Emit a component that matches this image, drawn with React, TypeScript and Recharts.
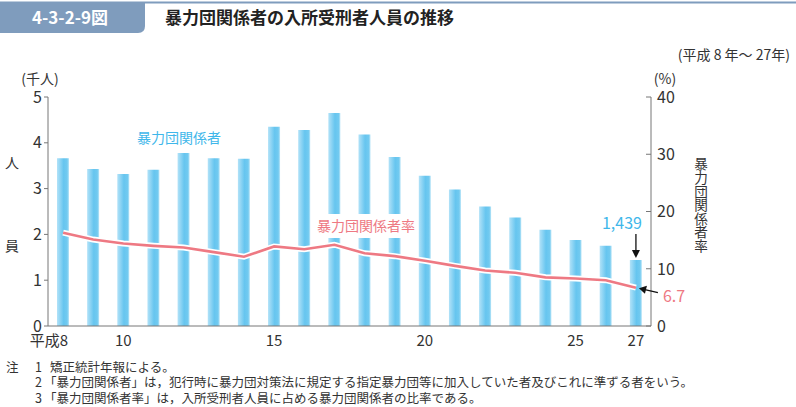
import React from "react";
import {
  ComposedChart,
  Bar,
  Line,
  XAxis,
  YAxis,
  ReferenceDot,
} from "recharts";

// 平成8年〜27年
const years = [8, 9, 10, 11, 12, 13, 14, 15, 16, 17, 18, 19, 20, 21, 22, 23, 24, 25, 26, 27];
// 暴力団関係者の入所受刑者人員（千人）
const members = [3.66, 3.43, 3.32, 3.41, 3.78, 3.66, 3.65, 4.35, 4.28, 4.65, 4.18, 3.69, 3.28, 2.98, 2.61, 2.37, 2.1, 1.88, 1.75, 1.439];
// 暴力団関係者率（%）
const rate = [16.3, 15.1, 14.4, 14.0, 13.7, 12.9, 12.1, 13.9, 13.4, 14.2, 12.7, 12.2, 11.4, 10.5, 9.7, 9.3, 8.5, 8.3, 8.0, 6.7];

const xTickYears = [8, 10, 15, 20, 25, 27];
const leftTicks = [0, 1, 2, 3, 4, 5];
const rightTicks = [0, 10, 20, 30, 40];

const notes = [
  ["注", "1", "矯正統計年報による。"],
  ["", "2", "「暴力団関係者」は，犯行時に暴力団対策法に規定する指定暴力団等に加入していた者及びこれに準ずる者をいう。"],
  ["", "3", "「暴力団関係者率」は，入所受刑者人員に占める暴力団関係者の比率である。"],
];

const data = years.map((y, i) => ({ year: y, members: members[i], rate: rate[i] }));

const FONT = '"Noto Sans CJK JP", "Noto Sans", sans-serif';
const BLUE = "#3fb7ea";
const PINK = "#ee7983";
const AXIS = "#777";
const TEXT = "#333";

function XTick(props: any) {
  const { x, y, payload } = props;
  if (!xTickYears.includes(payload.value)) return <g />;
  const first = payload.value === years[0];
  return (
    <text
      x={first ? x + 5 : x}
      y={y + 20}
      textAnchor={first ? "end" : "middle"}
      fontSize={15}
      fill={TEXT}
      fontFamily={FONT}
    >
      {first ? `平成${payload.value}` : payload.value}
    </text>
  );
}

function RightTick(props: any) {
  const { x, y, payload } = props;
  return (
    <g>
      <line x1={x - 10} x2={x - 5} y1={y} y2={y} stroke={AXIS} />
      <text x={x + 1} y={y} dy="0.36em" textAnchor="start" fontSize={16} fill={TEXT} fontFamily={FONT}>
        {payload.value}
      </text>
    </g>
  );
}

function DownArrowLabel(props: any) {
  const { viewBox } = props;
  const cx = viewBox.x + viewBox.width / 2;
  const cy = viewBox.y + viewBox.height / 2;
  return (
    <g>
      <text x={cx - 14} y={cy - 37} dy="0.36em" textAnchor="middle" fontSize={16} fill={BLUE} fontFamily={FONT}>
        1,439
      </text>
      <line x1={cx} x2={cx} y1={cy - 26} y2={cy - 9} stroke="#111" strokeWidth={1.3} />
      <polygon points={`${cx - 4},${cy - 10} ${cx + 4},${cy - 10} ${cx},${cy - 2}`} fill="#111" />
    </g>
  );
}

function LeftArrowLabel(props: any) {
  const { viewBox } = props;
  const cx = viewBox.x + viewBox.width / 2;
  const cy = viewBox.y + viewBox.height / 2;
  return (
    <g>
      <line x1={cx + 22} x2={cx + 9} y1={cy + 5} y2={cy + 2} stroke="#111" strokeWidth={1.3} />
      <polygon points={`${cx + 3},${cy + 0.5} ${cx + 11},${cy - 2} ${cx + 9},${cy + 6}`} fill="#111" />
      <text x={cx + 27} y={cy + 9} dy="0.36em" textAnchor="start" fontSize={16} fill={PINK} fontFamily={FONT}>
        6.7
      </text>
    </g>
  );
}

export default function App() {
  return (
    <div style={{ position: "absolute", left: 0, top: 0, width: 796, height: 407, background: "#fff", fontFamily: FONT }}>
      <ComposedChart
        width={796}
        height={407}
        data={data}
        margin={{ top: 97, right: 105, left: 8, bottom: 61 }}
        barCategoryGap={0}
      >
        <defs>
          <linearGradient id="barGrad" x1="0" y1="0" x2="1" y2="0">
            <stop offset="0" stopColor="#b2e2f8" />
            <stop offset="0.55" stopColor="#66c5ef" />
            <stop offset="0.85" stopColor="#72caf0" />
            <stop offset="1" stopColor="#bce6f8" />
          </linearGradient>
        </defs>
        <XAxis
          dataKey="year"
          interval={0}
          tickLine={false}
          tickSize={0}
          tickMargin={0}
          axisLine={{ stroke: AXIS }}
          tick={<XTick />}
          height={20}
        />
        <YAxis
          yAxisId="left"
          domain={[0, 5]}
          ticks={leftTicks}
          width={40}
          tickSize={4}
          tickMargin={2}
          axisLine={{ stroke: AXIS }}
          tickLine={{ stroke: AXIS }}
          tick={{ fontSize: 16, fill: TEXT, fontFamily: FONT }}
        />
        <YAxis
          yAxisId="right"
          orientation="right"
          domain={[0, 40]}
          ticks={rightTicks}
          width={40}
          tickSize={0}
          tickMargin={5}
          tickLine={false}
          axisLine={{ stroke: AXIS }}
          tick={<RightTick />}
        />
        <Bar yAxisId="left" dataKey="members" barSize={12} fill="url(#barGrad)" isAnimationActive={false} />
        <Line
          yAxisId="right"
          dataKey="rate"
          type="linear"
          stroke="#fff"
          strokeWidth={6}
          dot={false}
          activeDot={false}
          isAnimationActive={false}
        />
        <Line
          yAxisId="right"
          dataKey="rate"
          type="linear"
          stroke={PINK}
          strokeWidth={2.6}
          dot={false}
          activeDot={false}
          isAnimationActive={false}
        />
        <ReferenceDot
          yAxisId="left"
          x={27}
          y={members[members.length - 1]}
          r={0}
          fill="none"
          stroke="none"
          label={<DownArrowLabel />}
        />
        <ReferenceDot
          yAxisId="right"
          x={27}
          y={rate[rate.length - 1]}
          r={0}
          fill="none"
          stroke="none"
          label={<LeftArrowLabel />}
        />
      </ComposedChart>

      <svg
        width={796}
        height={407}
        style={{ position: "absolute", left: 0, top: 0, pointerEvents: "none" }}
        fontFamily={FONT}
      >
        {/* header */}
        <line x1={0} x2={796} y1={2.5} y2={2.5} stroke="#7f9cbd" strokeWidth={2} />
        <path d="M0,2 H145 V26 Q145,33 138,33 H0 Z" fill="#7f9cbd" />
        <text x={70} y={18} dy="0.36em" textAnchor="middle" fontSize={17} fontWeight={700} fill="#fff">
          4-3-2-9図
        </text>
        <text x={165} y={18} dy="0.36em" fontSize={17} fontWeight={700} fill="#222">
          暴力団関係者の入所受刑者人員の推移
        </text>
        <text x={790} y={55} dy="0.36em" textAnchor="end" fontSize={14} fill={TEXT}>
          (平成 8 年～ 27年)
        </text>

        {/* axis units and titles */}
        <text x={40} y={79} dy="0.36em" textAnchor="middle" fontSize={14} fill={TEXT}>
          (千人)
        </text>
        <text x={665} y={79} dy="0.36em" textAnchor="middle" fontSize={14} fill={TEXT}>
          (%)
        </text>
        <text x={12} y={163} dy="0.36em" textAnchor="middle" fontSize={14} fill={TEXT}>
          人
        </text>
        <text x={12} y={246} dy="0.36em" textAnchor="middle" fontSize={14} fill={TEXT}>
          員
        </text>
        <text
          x={701}
          y={205}
          textAnchor="middle"
          fontSize={13.6}
          fill={TEXT}
          style={{ writingMode: "vertical-rl" }}
        >
          暴力団関係者率
        </text>

        {/* series labels */}
        <text x={137} y={138} dy="0.36em" fontSize={14} fill={BLUE}>
          暴力団関係者
        </text>
        <rect x={313} y={214} width={103} height={24} fill="#fff" />
        <text x={317} y={226} dy="0.36em" fontSize={14} fill={PINK}>
          暴力団関係者率
        </text>

        {/* notes */}
        <text fontSize={12.5} fill={TEXT}>
          {notes.map((n, i) => (
            <React.Fragment key={i}>
              {n[0] && (
                <tspan x={6} y={371.5 + i * 15.5}>
                  {n[0]}
                </tspan>
              )}
              <tspan x={35} y={371.5 + i * 15.5}>
                {n[1]}
              </tspan>
              <tspan x={n[2].startsWith("「") ? 44 : 50} y={371.5 + i * 15.5}>
                {n[2]}
              </tspan>
            </React.Fragment>
          ))}
        </text>
      </svg>
    </div>
  );
}
